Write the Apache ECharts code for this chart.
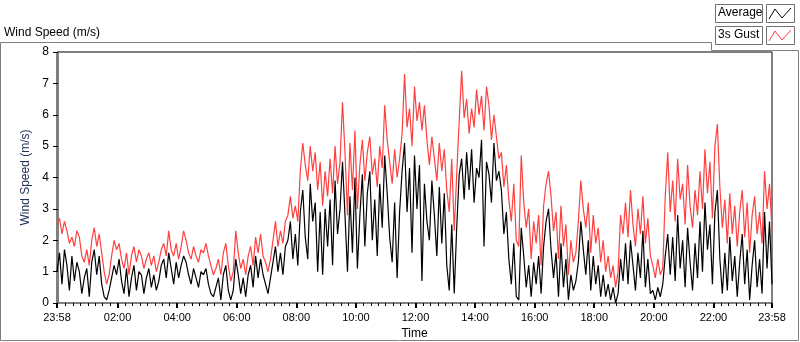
<!DOCTYPE html>
<html>
<head>
<meta charset="utf-8">
<script src="https://cdn.jsdelivr.net/npm/echarts@6/dist/echarts.min.js"></script>
<style>
  html, body { margin: 0; padding: 0; background: #fff; }
  #chart { width: 800px; height: 342px; }
</style>
</head>
<body>
<div id="chart"></div>
<script>
// minutes since midnight, first sample is 23:58 of previous day, one sample every 5 min
const startMin = -2;
const stepMin = 5;

// 3s gust (m/s)
const gust = [
  2.5, 2.7, 2.2, 2.6, 2.3, 1.9, 2.1, 1.8, 2.3, 2.1,
  1.5, 1.3, 1.7, 1.2, 2.0, 2.4, 1.8, 2.2, 1.6, 1.0,
  0.6, 0.9, 1.5, 2.0, 1.7, 1.9, 1.4, 1.1, 1.6, 0.9,
  1.5, 1.8, 1.3, 1.7, 1.5, 1.1, 1.4, 1.6, 1.2, 1.5,
  1.0, 1.3, 1.7, 1.9, 1.5, 2.3, 1.7, 1.5, 1.9, 1.4,
  1.8, 2.3, 2.0, 1.6, 1.4, 1.8, 1.5, 1.3, 1.7, 1.6,
  1.9, 1.5, 1.2, 0.9, 1.1, 1.4, 0.9, 1.6, 1.9, 1.2,
  0.7, 1.0, 2.3, 1.6, 1.1, 1.4, 0.9, 1.5, 1.8, 1.2,
  2.1, 1.6, 2.2, 1.5, 1.3, 1.0, 1.4, 2.0, 2.6, 1.8,
  2.3, 1.9, 2.6, 2.8, 3.4, 2.7, 3.1, 2.6, 4.2, 5.1,
  4.4, 3.9, 5.0, 4.2, 4.8, 3.6, 4.5, 3.1, 4.2, 3.4,
  4.6, 3.5, 5.0, 3.8, 4.5, 6.4, 4.8, 2.8, 5.1, 3.6,
  5.5, 3.0, 4.4, 5.2, 3.9, 4.8, 5.3, 4.1, 4.6, 3.7,
  5.0, 4.3, 6.3, 5.2, 4.5, 3.8, 4.9, 4.0, 4.6, 5.4,
  7.3, 5.6, 6.2, 5.0, 6.9, 5.8, 6.4, 5.5, 6.3, 5.2,
  4.4, 5.3, 4.6, 3.9, 5.1, 4.2, 4.9, 3.6, 2.9, 4.6,
  2.3, 4.1, 5.8, 7.4, 5.9, 6.5, 5.4, 6.2, 5.6, 6.8,
  6.0, 6.6, 5.5, 6.9, 6.3, 5.2, 6.0, 5.3, 4.6, 4.8,
  3.7, 4.4, 3.3, 2.6, 3.8, 2.0, 1.8, 4.7, 3.2, 2.4,
  3.0, 1.4, 2.6, 1.9, 2.8, 1.2, 3.1, 3.8, 4.2, 3.4,
  2.3, 2.9, 1.4, 3.1, 1.8, 2.5, 0.9, 2.0, 1.3, 1.6,
  2.6, 3.9, 3.0, 2.4, 3.2, 1.6, 2.8, 1.9, 2.4, 1.3,
  2.0, 1.0, 1.5, 0.8, 1.2, 0.5, 1.0, 2.8, 2.2, 3.2,
  2.1, 3.6, 2.5, 1.8, 3.0, 2.2, 3.4, 1.9, 2.7, 1.5,
  1.2, 0.8, 1.4, 0.9, 1.1, 3.4, 4.8, 2.9, 3.9, 2.6,
  4.6, 3.3, 3.8, 2.5, 4.4, 3.1, 2.4, 3.6, 2.8, 4.2,
  3.0, 4.9, 3.5, 4.5, 2.7, 5.0, 5.7, 3.7, 2.4, 3.3,
  1.9, 3.5, 2.2, 3.1, 1.8, 2.9, 3.6, 2.1, 3.2, 1.6,
  2.8, 3.4, 2.2, 2.9, 1.9, 4.2, 3.0, 3.8, 2.3
];

// average (m/s)
const average = [
  1.0, 1.6, 0.6, 1.7, 1.2, 0.4, 1.5, 0.7, 1.3, 1.0,
  0.3, 0.8, 1.1, 0.2, 1.3, 1.7, 0.9, 1.5, 0.6, 0.2,
  0.1, 0.4, 0.8, 1.2, 0.9, 1.4, 0.7, 0.3, 1.1, 0.2,
  0.8, 1.2, 0.4, 1.0, 0.9, 0.3, 0.8, 1.1, 0.5, 0.9,
  0.4, 0.7, 1.2, 1.4, 0.8, 1.6, 1.1, 0.6, 1.3, 0.8,
  1.2, 1.5, 1.3, 0.9, 0.6, 1.1, 0.8, 0.5, 1.0, 0.9,
  1.1, 0.6, 0.3, 0.2, 0.5, 0.8, 0.1, 0.9, 1.2, 0.4,
  0.1, 0.4, 1.4, 0.9, 0.3, 0.8, 0.2, 0.9, 1.2, 0.5,
  1.5, 0.8, 1.4, 0.9, 0.6, 0.3, 0.8, 1.3, 1.8, 1.0,
  1.6, 0.9, 1.8, 2.0, 2.6, 1.4, 2.2, 1.2, 2.9, 3.6,
  2.1, 1.4, 3.8, 2.6, 3.2, 1.0, 2.9, 0.9, 3.0, 1.8,
  3.3, 1.2, 3.9, 2.2, 3.0, 4.5, 2.8, 1.0, 3.4, 1.6,
  4.0, 1.1, 2.8, 4.1, 1.8, 3.5, 4.2, 2.0, 3.3, 1.5,
  3.8, 2.4, 4.7, 3.5, 2.1, 1.3, 3.2, 0.8, 2.9, 4.2,
  5.1, 2.9, 4.3, 1.6, 4.7, 3.0, 4.4, 0.7, 3.8, 2.6,
  2.0, 3.9, 2.8, 1.5, 3.7, 1.9, 3.5, 1.2, 0.4, 2.5,
  0.3, 2.4, 4.1, 4.6, 3.3, 4.8, 3.6, 4.9, 3.2, 4.3,
  4.0, 5.2, 1.8, 4.5, 4.1, 3.2, 5.1, 3.9, 4.2, 3.6,
  2.2, 2.9, 1.4, 0.6, 1.9, 0.2, 0.1, 2.4, 1.5, 0.5,
  1.2, 0.2, 1.3, 0.6, 1.5, 0.3, 1.8, 2.6, 3.0, 1.7,
  0.8, 1.6, 0.2, 1.9, 0.5, 1.4, 0.1, 0.9, 0.4, 0.7,
  1.3, 2.6, 1.7, 0.9, 2.0, 0.4, 1.5, 0.6, 1.2, 0.2,
  0.9, 0.2, 0.6, 0.1, 0.5, 0.0, 0.3, 1.4, 0.7, 1.9,
  0.6, 2.0, 1.2, 0.4, 1.6, 0.8, 2.3, 0.5, 1.4, 0.3,
  0.4, 0.1, 0.5, 0.2, 0.6, 1.5, 2.2, 0.9, 2.1, 0.7,
  2.8, 1.1, 2.0, 0.5, 2.4, 1.3, 0.4, 1.9, 0.8, 2.6,
  1.0, 3.2, 1.7, 2.5, 0.6, 2.9, 3.6, 1.4, 0.3, 1.6,
  0.4, 2.1, 0.7, 1.5, 0.2, 1.3, 2.2, 0.6, 1.7, 0.1,
  1.2, 2.0, 0.5, 1.4, 0.3, 2.9, 1.1, 2.6, 0.6
];

// labelled ticks (minutes since midnight)
const majorTicks = [-2, 120, 240, 360, 480, 600, 720, 840, 960, 1080, 1200, 1320, 1438];
// small ticks every 15 min
const minorTicks = [];
for (let m = 15; m < 1440; m += 15) minorTicks.push(m);

function toPairs(values) {
  return values.map((v, i) => [startMin + i * stepMin, v]);
}

function fmtTime(v) {
  const m = ((v % 1440) + 1440) % 1440;
  const hh = Math.floor(m / 60);
  const mm = m % 60;
  return String(hh).padStart(2, "0") + ":" + String(mm).padStart(2, "0");
}

const font = "Liberation Sans, Arial, sans-serif";
const chart = echarts.init(document.getElementById("chart"));

const options = {
  animation: false,
  backgroundColor: "#fff",
  textStyle: { fontFamily: font },
  grid: {
    left: 57,
    right: 28,
    top: 52,
    bottom: 39,
    outerBoundsMode: "none",
    containLabel: false,
    show: true,
    borderColor: "#000",
    borderWidth: 1,
  },
  xAxis: [
    {
      type: "value",
      min: -2,
      max: 1438,
      position: "bottom",
      name: "Time",
      nameLocation: "middle",
      nameGap: 25,
      nameTextStyle: { color: "#000", fontSize: 12, fontFamily: font },
      axisLine: { show: true, lineStyle: { color: "#808080", width: 1 } },
      axisTick: {
        show: true,
        customValues: majorTicks,
        length: 5,
        lineStyle: { color: "#000", width: 2 },
      },
      axisLabel: {
        customValues: majorTicks,
        formatter: fmtTime,
        color: "#000",
        fontSize: 11,
        margin: 9,
        fontFamily: font,
        showMinLabel: true,
        showMaxLabel: true,
      },
      splitLine: { show: false },
    },
    {
      // minor ticks only
      type: "value",
      min: -2,
      max: 1438,
      position: "bottom",
      offset: 0,
      axisLine: { show: false },
      axisTick: {
        show: true,
        customValues: minorTicks,
        length: 3,
        lineStyle: { color: "#000", width: 1 },
      },
      axisLabel: { show: false },
      splitLine: { show: false },
    },
  ],
  yAxis: [
    {
      type: "value",
      min: 0,
      max: 8,
      interval: 1,
      name: "Wind Speed (m/s)",
      nameLocation: "middle",
      nameGap: 25,
      nameRotate: 90,
      nameTextStyle: { color: "#22325a", fontSize: 12, fontFamily: font },
      axisLine: { show: true, lineStyle: { color: "#000", width: 1 } },
      axisTick: { show: true, length: 5, lineStyle: { color: "#000" } },
      axisLabel: { color: "#000", fontSize: 12, margin: 8, fontFamily: font },
      splitLine: { show: false },
    },
    {
      // grey right edge of the plot
      type: "value",
      min: 0,
      max: 8,
      position: "right",
      axisLine: { show: true, lineStyle: { color: "#808080", width: 1 } },
      axisTick: { show: false },
      axisLabel: { show: false },
      splitLine: { show: false },
    },
  ],
  series: [
    {
      name: "3s Gust",
      type: "line",
      data: toPairs(gust),
      showSymbol: false,
      lineStyle: { color: "#ff4040", width: 1.2 },
      itemStyle: { color: "#ff4040" },
      z: 2,
    },
    {
      name: "Average",
      type: "line",
      data: toPairs(average),
      showSymbol: false,
      lineStyle: { color: "#000", width: 1.2 },
      itemStyle: { color: "#000" },
      z: 3,
    },
  ],
  graphic: [
    // outer frame
    {
      type: "polyline",
      shape: {
        points: [[0.5, 42.5], [711.5, 42.5], [711.5, 50.5], [798.5, 50.5], [798.5, 340.5], [0.5, 340.5], [0.5, 42.5]],
      },
      style: { fill: null, stroke: "#808080", lineWidth: 1 },
      silent: true,
    },
    {
      type: "text",
      left: 4,
      top: 27,
      style: { text: "Wind Speed (m/s)", fill: "#000", fontSize: 12, fontFamily: font },
    },
    // legend boxes
    { type: "rect", shape: { x: 715.5, y: 4.5, width: 47, height: 18 }, style: { fill: "#fff", stroke: "#707070" } },
    { type: "text", left: 718, top: 7, style: { text: "Average", fill: "#000", fontSize: 12, fontFamily: font } },
    { type: "rect", shape: { x: 766.5, y: 4.5, width: 28, height: 18 }, style: { fill: "#fff", stroke: "#707070" } },
    {
      type: "polyline",
      shape: { points: [[769, 19], [775, 9], [782, 18], [791, 8]] },
      style: { fill: null, stroke: "#000", lineWidth: 1 },
    },
    { type: "rect", shape: { x: 715.5, y: 26.5, width: 47, height: 18 }, style: { fill: "#fff", stroke: "#707070" } },
    { type: "text", left: 718, top: 29, style: { text: "3s Gust", fill: "#000", fontSize: 12, fontFamily: font } },
    { type: "rect", shape: { x: 766.5, y: 26.5, width: 28, height: 18 }, style: { fill: "#fff", stroke: "#707070" } },
    {
      type: "polyline",
      shape: { points: [[769, 41], [775, 31], [782, 40], [791, 30]] },
      style: { fill: null, stroke: "#ff4040", lineWidth: 1 },
    },
  ],
};

chart.setOption(options);
</script>
</body>
</html>
